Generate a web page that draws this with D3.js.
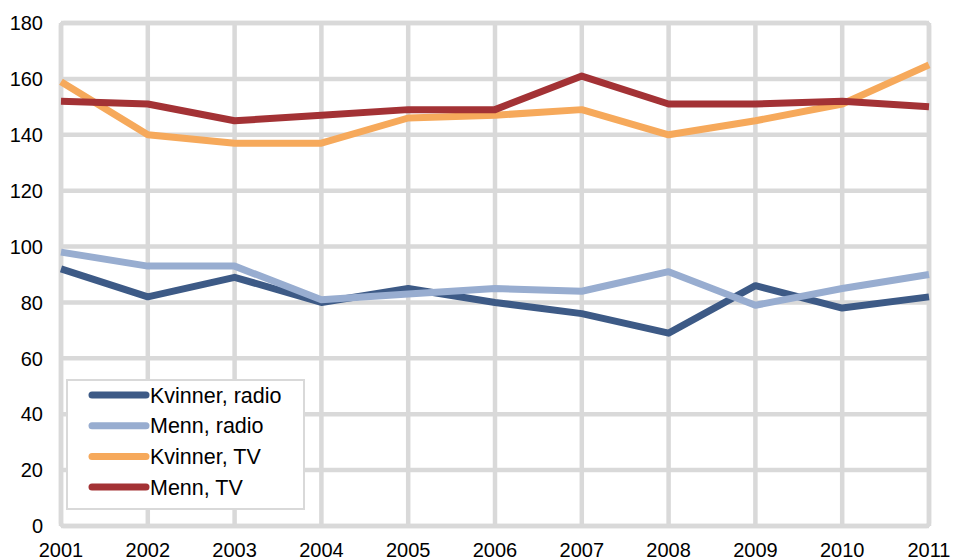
<!DOCTYPE html>
<html lang="no">
<head>
<meta charset="UTF-8">
<title>Kvinner og menn, radio og TV</title>
<script src="https://d3js.org/d3.v7.min.js"></script>
<style>
    body { margin: 0; background: #fff; }
    text { font-family: "Liberation Sans", Arial, sans-serif; font-size: 20px; fill: #000; }
    .legend text { font-size: 21.5px; }
</style>
</head>
<body>
<svg width="953" height="558"></svg>
<script>
    // data
    var years = [2001, 2002, 2003, 2004, 2005, 2006, 2007, 2008, 2009, 2010, 2011];
    var kvinnerRadio = [92, 82, 89, 80, 85, 80, 76, 69, 86, 78, 82];
    var mennRadio = [98, 93, 93, 81, 83, 85, 84, 91, 79, 85, 90];
    var kvinnerTV = [159, 140, 137, 137, 146, 147, 149, 140, 145, 151, 165];
    var mennTV = [152, 151, 145, 147, 149, 149, 161, 151, 151, 152, 150];
    var yTicks = [0, 20, 40, 60, 80, 100, 120, 140, 160, 180];

    var series = [
        { name: "Kvinner, radio", values: kvinnerRadio, color: "#3d5a86" },
        { name: "Menn, radio", values: mennRadio, color: "#98add0" },
        { name: "Kvinner, TV", values: kvinnerTV, color: "#f6a95b" },
        { name: "Menn, TV", values: mennTV, color: "#a33235" }
    ];

    var svg = d3.select("svg");
    var grid = "#d9d9d9";

    var x = d3.scaleLinear().domain([2001, 2011]).range([61, 929]);
    var y = d3.scaleLinear().domain([0, 180]).range([526, 23]);

    // gridlines
    svg.append("g").selectAll("line.h")
        .data(yTicks)
        .enter().append("line")
        .attr("x1", x(2001)).attr("x2", x(2011))
        .attr("y1", function(d) { return y(d); })
        .attr("y2", function(d) { return y(d); })
        .attr("stroke", grid).attr("stroke-width", 4.5);

    svg.append("g").selectAll("line.v")
        .data(years)
        .enter().append("line")
        .attr("x1", function(d) { return x(d); })
        .attr("x2", function(d) { return x(d); })
        .attr("y1", y(0)).attr("y2", y(180))
        .attr("stroke", grid).attr("stroke-width", 4.5);

    svg.append("rect")
        .attr("x", x(2001)).attr("y", y(180))
        .attr("width", x(2011) - x(2001)).attr("height", y(0) - y(180))
        .attr("rx", 3)
        .attr("fill", "none").attr("stroke", grid).attr("stroke-width", 4.5);

    // axis labels
    svg.append("g").selectAll("text")
        .data(yTicks)
        .enter().append("text")
        .attr("x", 43)
        .attr("y", function(d) { return y(d); })
        .attr("dy", "0.36em")
        .attr("text-anchor", "end")
        .text(function(d) { return d; });

    // the year labels sit on the bottom edge, clipped as in the original
    svg.append("g").selectAll("text")
        .data(years)
        .enter().append("text")
        .attr("x", function(d) { return x(d); })
        .attr("y", 557)
        .attr("text-anchor", "middle")
        .text(function(d) { return d; });

    // lines
    var line = d3.line()
        .x(function(d, i) { return x(years[i]); })
        .y(function(d) { return y(d); });

    svg.append("g").selectAll("path")
        .data(series)
        .enter().append("path")
        .attr("d", function(d) { return line(d.values); })
        .attr("fill", "none")
        .attr("stroke", function(d) { return d.color; })
        .attr("stroke-width", 7)
        .attr("stroke-linejoin", "round");

    // legend
    var legend = svg.append("g").attr("class", "legend").attr("transform", "translate(67,380)");
    legend.append("rect")
        .attr("width", 237).attr("height", 129)
        .attr("fill", "#fff")
        .attr("stroke", grid).attr("stroke-width", 2);

    var item = legend.selectAll("g.item")
        .data(series)
        .enter().append("g")
        .attr("transform", function(d, i) { return "translate(0," + (15 + i * 30.7) + ")"; });

    item.append("line")
        .attr("x1", 25).attr("x2", 79)
        .attr("stroke", function(d) { return d.color; })
        .attr("stroke-width", 7)
        .attr("stroke-linecap", "round");

    item.append("text")
        .attr("x", 83)
        .attr("dy", "0.36em")
        .text(function(d) { return d.name; });
</script>
</body>
</html>
